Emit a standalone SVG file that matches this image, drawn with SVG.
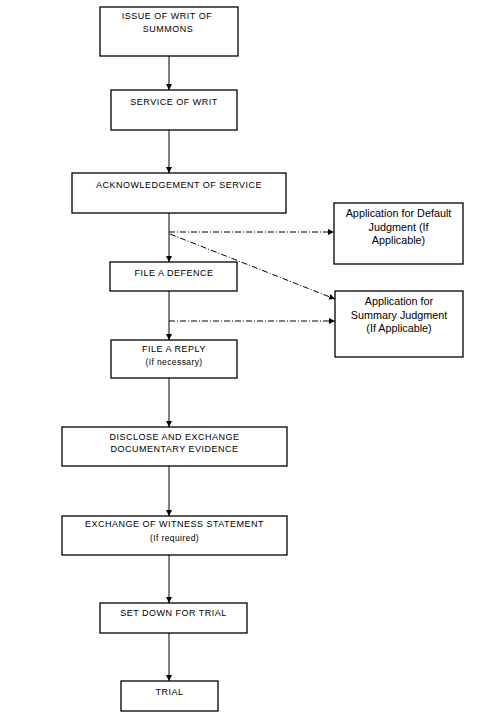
<svg xmlns="http://www.w3.org/2000/svg" width="478" height="725" viewBox="0 0 478 725">
<defs>
<marker id="ah" viewBox="0 0 10 10" refX="10" refY="5" markerWidth="6" markerHeight="6" markerUnits="userSpaceOnUse" orient="auto">
<path d="M0,0 L10,5 L0,10 z" fill="#000"/>
</marker>
<style>
.box{fill:#fff;stroke:#000;stroke-width:1.3}
.cap{font-family:"Liberation Sans",Arial,sans-serif;font-size:9px;letter-spacing:0.5px;text-anchor:middle;fill:#000}
.sub{font-family:"Liberation Sans",Arial,sans-serif;font-size:8.5px;letter-spacing:0.4px;text-anchor:middle;fill:#000}
.mix{font-family:"Liberation Sans",Arial,sans-serif;font-size:10.8px;text-anchor:middle;fill:#000}
.ln{stroke:#000;stroke-width:1;fill:none}
.dd{stroke:#000;stroke-width:1;fill:none;stroke-dasharray:6 2 1 2}
</style>
</defs>
<rect width="478" height="725" fill="#fff"/>
<g id="connectors">
<line class="ln" x1="169" y1="56" x2="169" y2="90" marker-end="url(#ah)"/>
<line class="ln" x1="169" y1="130" x2="169" y2="173" marker-end="url(#ah)"/>
<line class="ln" x1="169" y1="213" x2="169" y2="262" marker-end="url(#ah)"/>
<line class="ln" x1="169" y1="291" x2="169" y2="340" marker-end="url(#ah)"/>
<line class="ln" x1="169" y1="378" x2="169" y2="427" marker-end="url(#ah)"/>
<line class="ln" x1="169" y1="466" x2="169" y2="516" marker-end="url(#ah)"/>
<line class="ln" x1="169" y1="555" x2="169" y2="603" marker-end="url(#ah)"/>
<line class="ln" x1="169" y1="633" x2="169" y2="681" marker-end="url(#ah)"/>
<line class="dd" x1="169" y1="232" x2="334" y2="232" marker-end="url(#ah)"/>
<line class="dd" x1="170" y1="234" x2="335" y2="299" marker-end="url(#ah)"/>
<line class="dd" x1="169" y1="321" x2="335" y2="321" marker-end="url(#ah)"/>
</g>
<g id="issue">
<rect class="box" x="100" y="7" width="138" height="49"/>
<text class="cap" x="167" y="19">ISSUE OF WRIT OF</text>
<text class="cap" x="168" y="32">SUMMONS</text>
</g>
<g id="service">
<rect class="box" x="111" y="90" width="126" height="40"/>
<text class="cap" x="174" y="105">SERVICE OF WRIT</text>
</g>
<g id="ack">
<rect class="box" x="72" y="173" width="214" height="40"/>
<text class="cap" x="179" y="188">ACKNOWLEDGEMENT OF SERVICE</text>
</g>
<g id="default">
<rect class="box" x="334" y="203" width="129" height="61"/>
<text class="mix" x="398.5" y="217">Application for Default</text>
<text class="mix" x="398.5" y="230.5">Judgment (If</text>
<text class="mix" x="398.5" y="244">Applicable)</text>
</g>
<g id="summary">
<rect class="box" x="335" y="291" width="128" height="66"/>
<text class="mix" x="399" y="305">Application for</text>
<text class="mix" x="399" y="318.5">Summary Judgment</text>
<text class="mix" x="399" y="332">(If Applicable)</text>
</g>
<g id="defence">
<rect class="box" x="110" y="262" width="127" height="29"/>
<text class="cap" x="174" y="276">FILE A DEFENCE</text>
</g>
<g id="reply">
<rect class="box" x="111" y="340" width="126" height="38"/>
<text class="cap" x="174" y="352">FILE A REPLY</text>
<text class="sub" x="174" y="365">(If necessary)</text>
</g>
<g id="disclose">
<rect class="box" x="62" y="427" width="225" height="39"/>
<text class="cap" x="174.5" y="440">DISCLOSE AND EXCHANGE</text>
<text class="cap" x="174.5" y="452">DOCUMENTARY EVIDENCE</text>
</g>
<g id="witness">
<rect class="box" x="62" y="516" width="225" height="39"/>
<text class="cap" x="174.5" y="527">EXCHANGE OF WITNESS STATEMENT</text>
<text class="sub" x="174.5" y="541">(If required)</text>
</g>
<g id="setdown">
<rect class="box" x="100" y="603" width="147" height="30"/>
<text class="cap" x="173.5" y="616">SET DOWN FOR TRIAL</text>
</g>
<g id="trial">
<rect class="box" x="121" y="681" width="97" height="30"/>
<text class="cap" x="169.5" y="695">TRIAL</text>
</g>
</svg>
